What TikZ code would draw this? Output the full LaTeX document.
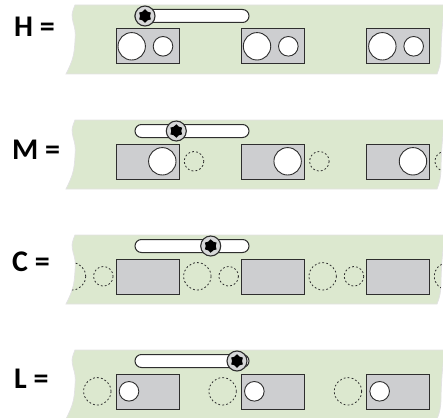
\documentclass[tikz,border=0pt]{standalone}
\usepackage{fontspec}
\setmainfont{Carlito}
\usepackage{xcolor}
\usetikzlibrary{positioning,shapes.geometric}

\definecolor{bandgreen}{HTML}{DCE8CF}
\definecolor{bandedge}{HTML}{E2E2E2}
\definecolor{plategray}{HTML}{CDCED0}
\definecolor{inkdark}{HTML}{2E2E2E}

\newcommand{\bandoutline}{(75,0) .. controls (73,5) and (71.5,9) .. (72.3,13) .. controls (73,19) and (75.6,23) .. (75.3,30) .. controls (75,38) and (74.6,44) .. (73.5,50) .. controls (72,57) and (69,63) .. (66,69) -- (437,69) .. controls (440,62) and (441,55) .. (441,48) .. controls (441,40) and (441.5,33) .. (442,25) .. controls (442.5,18) and (443.5,10) .. (445,0) -- cycle}

\begin{document}
\begin{tikzpicture}[
    x = 1pt, y = -1pt,
    band/.style = {fill=bandgreen, draw=bandedge, line width=0.8pt},
    plate/.style = {fill=plategray, draw=inkdark, line width=1pt},
    slot/.style = {fill=white, draw=inkdark, line width=1pt, rounded corners=6.5pt},
    hole/.style = {fill=white, draw=inkdark, line width=0.9pt},
    ghost/.style = {draw=inkdark, line width=0.8pt, dash pattern=on 1.8pt off 2.2pt},
    head/.style = {fill=plategray!80!white, draw=inkdark, line width=1.1pt},
    torx/.style = {star, star points=6, star point ratio=1.35, fill=black, inner sep=0pt, minimum size=13.5pt},
    lbl/.style = {anchor=base west, inner sep=0pt, font=\fontsize{30}{30}\selectfont\bfseries}
]
\clip (0,0) rectangle (443,417);

\node (lblH) [lbl] at (14,36.7) {H =};
\node (lblM) [lbl] at (12,159.3) {M =};
\node (lblC) [lbl] at (12,271.7) {C =};
\node (lblL) [lbl] at (14,388.7) {L =};

% H
\begin{scope}[shift={(0,5)}]
\path[band] \bandoutline;
\draw[slot] (135,4.5) rectangle (249,17.5);
\foreach \i in {0,1,2} {
    \draw[plate] (116+125.33*\i,24) rectangle (179+125.33*\i,59);
    \draw[hole] (131.7+125.33*\i,41.3) circle (13.7);
    \draw[hole] (163+125.33*\i,41.3) circle (9.8);
}
\draw[head] (145,11) circle (10);
\node (torxH) [torx] at (145,11) {};
\end{scope}

% M
\begin{scope}[shift={(0,120)}]
\path[band] \bandoutline;
\draw[slot] (135,4.5) rectangle (249,17.5);
\begin{scope}
\clip \bandoutline;
\foreach \i in {0,1,2} {
    \draw[plate] (116+125.33*\i,24) rectangle (179+125.33*\i,59);
    \draw[hole] (162.3+125.33*\i,41.3) circle (13.7);
    \draw[ghost] (194+125.33*\i,41.3) circle (9.8);
}
\end{scope}
\draw[head] (176.3,11) circle (10);
\node (torxM) [torx] at (176.3,11) {};
\end{scope}

% C
\begin{scope}[shift={(0,235)}]
\path[band] \bandoutline;
\draw[slot] (135,4.5) rectangle (249,17.5);
\begin{scope}
\clip \bandoutline;
\foreach \i in {0,1,2}
    \draw[plate] (116+125.33*\i,24) rectangle (179+125.33*\i,59);
\foreach \i in {0,1,2,3} {
    \draw[ghost] (72+125.33*\i,41.3) circle (13.7);
    \draw[ghost] (103.3+125.33*\i,41.3) circle (9.8);
}
\end{scope}
\draw[head] (210.7,11) circle (10);
\node (torxC) [torx] at (210.7,11) {};
\end{scope}

% L
\begin{scope}[shift={(0,350)}]
\path[band] \bandoutline;
\draw[slot] (135,4.5) rectangle (249,17.5);
\foreach \i in {0,1,2} {
    \draw[plate] (116+125.33*\i,24) rectangle (179+125.33*\i,59);
    \draw[ghost] (97.3+125.33*\i,41.3) circle (13.7);
    \draw[hole] (129+125.33*\i,41.3) circle (9.8);
}
\draw[head] (237,11) circle (10);
\node (torxL) [torx] at (237,11) {};
\end{scope}
\end{tikzpicture}
\end{document}
